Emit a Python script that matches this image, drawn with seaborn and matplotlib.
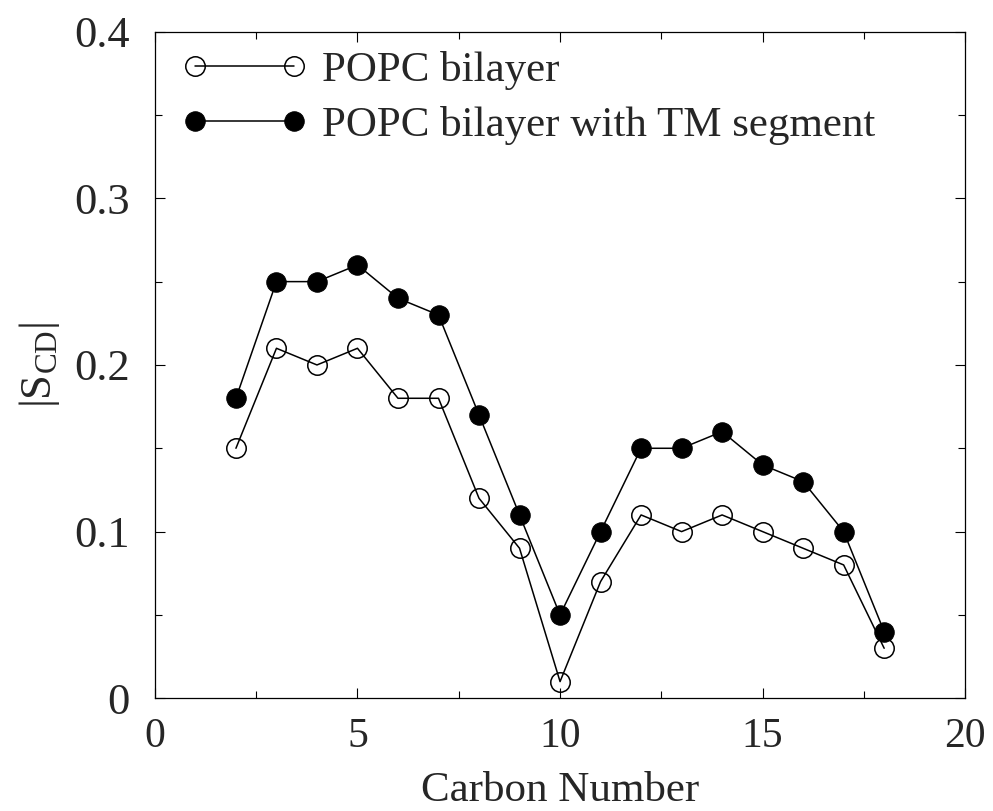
import matplotlib
matplotlib.use("Agg")
import matplotlib.pyplot as plt
import seaborn as sns
import pandas as pd
from matplotlib.ticker import MultipleLocator

carbon = [2, 3, 4, 5, 6, 7, 8, 9, 10, 11, 12, 13, 14, 15, 16, 17, 18]
popc = [0.15, 0.21, 0.20, 0.21, 0.18, 0.18, 0.12, 0.09, 0.01, 0.07, 0.11, 0.10, 0.11, 0.10, 0.09, 0.08, 0.03]
popc_tm = [0.18, 0.25, 0.25, 0.26, 0.24, 0.23, 0.17, 0.11, 0.05, 0.10, 0.15, 0.15, 0.16, 0.14, 0.13, 0.10, 0.04]
labels = ["POPC bilayer", "POPC bilayer with TM segment"]
xticks = [0, 5, 10, 15, 20]
xticklabels = ["0", "5", "10", "15", "20"]
yticks = [0, 0.1, 0.2, 0.3, 0.4]
yticklabels = ["0", "0.1", "0.2", "0.3", "0.4"]

df = pd.DataFrame({
    "carbon": carbon * 2,
    "scd": popc + popc_tm,
    "series": [labels[0]] * len(carbon) + [labels[1]] * len(carbon),
})

sns.set_theme(style="white")
plt.rcParams["font.family"] = ["Liberation Serif", "DejaVu Serif"]
plt.rcParams["mathtext.fontset"] = "custom"
plt.rcParams["mathtext.rm"] = "Liberation Serif"
plt.rcParams["mathtext.it"] = "Liberation Serif:italic"

fig = plt.figure(figsize=(9.93, 8.11), dpi=100)
ax = fig.add_axes([0.156, 0.139, 0.816, 0.822])

sns.lineplot(data=df[df.series == labels[0]], x="carbon", y="scd", ax=ax,
             color="black", lw=1.1, marker="o", markersize=14,
             markerfacecolor="none", markeredgecolor="black", markeredgewidth=1.1,
             label=labels[0])
sns.lineplot(data=df[df.series == labels[1]], x="carbon", y="scd", ax=ax,
             color="black", lw=1.1, marker="o", markersize=14,
             markerfacecolor="black", markeredgecolor="black",
             label=labels[1])

ax.set_xlim(0, 20)
ax.set_ylim(0, 0.4)
ax.set_xticks(xticks)
ax.set_xticklabels(xticklabels)
ax.set_yticks(yticks)
ax.set_yticklabels(yticklabels)
ax.xaxis.set_minor_locator(MultipleLocator(2.5))
ax.yaxis.set_minor_locator(MultipleLocator(0.05))
ax.tick_params(which="both", direction="in", top=True, right=True,
               bottom=True, left=True, color="black", width=0.8)
ax.tick_params(which="major", length=7)
ax.tick_params(which="minor", length=5)
ax.tick_params(axis="y", which="major", labelsize=32, pad=18)
ax.tick_params(axis="x", which="major", labelsize=30, pad=14)
for s in ax.spines.values():
    s.set_color("black")
    s.set_linewidth(0.9)

ax.set_xlabel("Carbon Number", fontsize=31, labelpad=11)
ax.set_ylabel(r"$|\mathrm{S}_{\mathrm{CD}}|$", fontsize=32, labelpad=9)

leg = ax.legend(loc="upper left", bbox_to_anchor=(0.033, 0.971), frameon=False,
                fontsize=31, numpoints=2, handlelength=2.9, markerscale=1.0,
                handletextpad=0.35, labelspacing=0.36, borderaxespad=0.0,
                borderpad=0.0)

fig.savefig("out.png", dpi=100)
